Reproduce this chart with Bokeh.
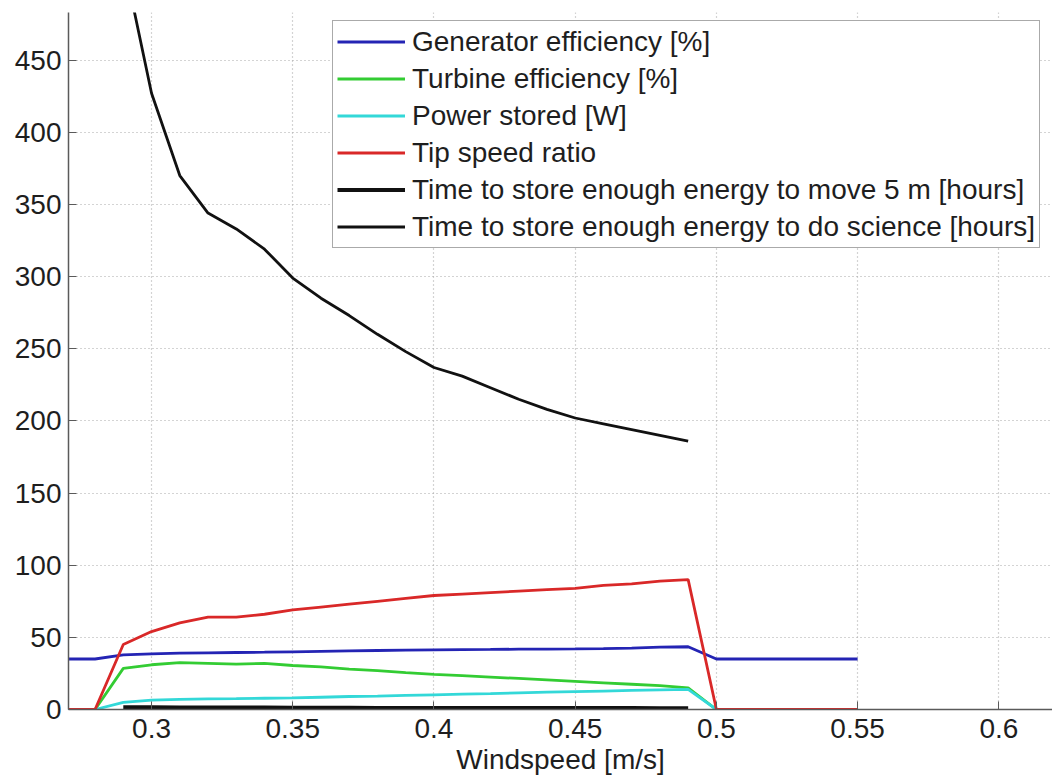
from bokeh.plotting import figure
from bokeh.models import Range1d, FixedTicker, Legend, LegendItem
from bokeh.embed import file_html
from bokeh.resources import INLINE

nan = float("nan")

# Wind speed samples [m/s]
windspeed = [0.27, 0.28, 0.29, 0.30, 0.31, 0.32, 0.33, 0.34, 0.35, 0.36,
             0.37, 0.38, 0.39, 0.40, 0.41, 0.42, 0.43, 0.44, 0.45, 0.46,
             0.47, 0.48, 0.49, 0.50, 0.51, 0.52, 0.53, 0.54, 0.55]

generator_eff = [35.0, 35.0, 37.8, 38.6, 39.0, 39.3, 39.5, 39.7, 40.0, 40.3,
                 40.6, 40.9, 41.1, 41.3, 41.5, 41.6, 41.8, 41.9, 42.0, 42.2,
                 42.6, 43.2, 43.5, 35.0, 35.0, 35.0, 35.0, 35.0, 35.0]

turbine_eff = [0, 0, 28.5, 31.0, 32.5, 32.0, 31.5, 32.0, 30.5, 29.5,
               28.0, 27.0, 25.5, 24.3, 23.5, 22.5, 21.5, 20.5, 19.5, 18.5,
               17.5, 16.5, 15.0, 0, 0, 0, 0, 0, 0]

power_stored = [0, 0, 5.0, 6.5, 7.0, 7.3, 7.5, 7.8, 8.0, 8.5,
                9.0, 9.3, 9.8, 10.2, 10.6, 11.0, 11.5, 12.0, 12.4, 12.8,
                13.2, 13.6, 14.0, 0, 0, 0, 0, 0, 0]

tip_speed_ratio = [0, 0, 45, 54, 60, 64, 64, 66, 69, 71,
                   73, 75, 77, 79, 80, 81, 82, 83, 84, 86,
                   87, 89, 90, 0, 0, 0, 0, 0, 0]

hours_move_5m = [nan, nan, 1.6, 1.5, 1.4, 1.4, 1.3, 1.3, 1.2, 1.2,
                 1.2, 1.1, 1.1, 1.1, 1.1, 1.0, 1.0, 1.0, 1.0, 1.0,
                 1.0, 0.9, 0.9, nan, nan, nan, nan, nan, nan]

hours_science = [nan, nan, 520, 427, 370, 344, 333, 319, 299, 285,
                 273, 260, 248, 237, 231, 223, 215, 208, 202, 198,
                 194, 190, 186, nan, nan, nan, nan, nan, nan]

series_labels = [
    "Generator efficiency [%]",
    "Turbine efficiency [%]",
    "Power stored [W]",
    "Tip speed ratio",
    "Time to store enough energy to move 5 m [hours]",
    "Time to store enough energy to do science [hours]",
]

x_ticks = [0.3, 0.35, 0.4, 0.45, 0.5, 0.55, 0.6]
x_tick_labels = ["0.3", "0.35", "0.4", "0.45", "0.5", "0.55", "0.6"]
y_ticks = [0, 50, 100, 150, 200, 250, 300, 350, 400, 450]

FONT = "Liberation Sans"
FS = "28px"
TEXT_COLOR = "#1e1e1e"

p = figure(width=1052, height=783,
           x_range=Range1d(0.2706, 0.619), y_range=Range1d(0, 483),
           output_backend="svg", toolbar_location=None,
           min_border_left=68, min_border_right=0,
           min_border_top=12, min_border_bottom=74)
p.outline_line_color = None
p.background_fill_color = "white"
p.border_fill_color = "white"

# axes: MATLAB-style inward ticks, grey spines
for ax in (p.xaxis[0], p.yaxis[0]):
    ax.axis_line_color = "#5a5a5a"
    ax.axis_line_width = 1.5
    ax.major_tick_line_color = "#5a5a5a"
    ax.major_tick_in = 8
    ax.major_tick_out = 0
    ax.minor_tick_line_color = None
    ax.major_label_text_font = FONT
    ax.major_label_text_font_size = FS
    ax.major_label_text_color = TEXT_COLOR

p.xaxis.ticker = FixedTicker(ticks=x_ticks)
p.xaxis.major_label_overrides = dict(zip(x_ticks, x_tick_labels))
p.xaxis.major_label_standoff = 9
p.xaxis.axis_label = "Windspeed [m/s]"
p.xaxis.axis_label_text_font = FONT
p.xaxis.axis_label_text_font_size = FS
p.xaxis.axis_label_text_font_style = "normal"
p.xaxis.axis_label_text_color = TEXT_COLOR
p.xaxis.axis_label_standoff = 3

p.yaxis.ticker = FixedTicker(ticks=y_ticks)
p.yaxis.major_label_standoff = 7

# dotted grid
for g in (p.xgrid[0], p.ygrid[0]):
    g.grid_line_color = "#a8a8a8"
    g.grid_line_dash = "1 3"
    g.grid_line_width = 1.2

LW = 2.8
r_gen = p.line(windspeed, generator_eff, line_color="#2424b4", line_width=LW)
r_turb = p.line(windspeed, turbine_eff, line_color="#33cc33", line_width=LW)
r_pow = p.line(windspeed, power_stored, line_color="#33d8d8", line_width=LW)
r_tsr = p.line(windspeed, tip_speed_ratio, line_color="#d92828", line_width=LW)
r_move = p.line(windspeed, hours_move_5m, line_color="#111111", line_width=4)
r_sci = p.line(windspeed, hours_science, line_color="#111111", line_width=LW)

renderers = [r_gen, r_turb, r_pow, r_tsr, r_move, r_sci]
legend = Legend(
    items=[LegendItem(label=lab, renderers=[r]) for lab, r in zip(series_labels, renderers)],
    location=(264, 461),
    label_text_font=FONT, label_text_font_size=FS, label_text_color=TEXT_COLOR,
    glyph_width=68, glyph_height=33, label_height=33, label_standoff=7,
    spacing=4, padding=4, margin=0,
    border_line_color="#555555", border_line_width=1.5,
    background_fill_color="white", background_fill_alpha=1.0,
)
p.add_layout(legend, "center")

open("out.html", "w").write(file_html(p, INLINE))
